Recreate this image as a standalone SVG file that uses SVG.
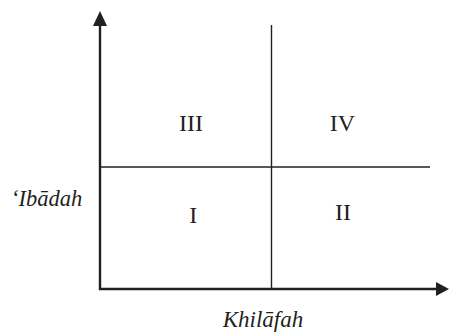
<svg xmlns="http://www.w3.org/2000/svg" width="449" height="333" viewBox="0 0 449 333">
<style>
.t{font-family:"Liberation Serif","Times New Roman",serif;font-size:24px;fill:#231f20}
.i{font-style:italic;font-size:23px}
.ax{stroke:#231f20;stroke-width:2.4;fill:none}
.ln{stroke:#231f20;stroke-width:1.4;fill:none}
</style>
<rect width="449" height="333" fill="#fff"/>
<g id="connectors">
<line class="ax" x1="100" y1="24" x2="100" y2="290"/>
<polygon points="100,11 93,26 107,26" fill="#231f20"/>
<line class="ax" x1="99" y1="289" x2="438" y2="289"/>
<polygon points="449,289 436,282 436,296" fill="#231f20"/>
<line class="ln" x1="101" y1="167" x2="430" y2="167"/>
<line class="ln" x1="271.5" y1="25" x2="271.5" y2="289"/>
</g>
<g id="q3"><text class="t" x="191" y="131" text-anchor="middle">III</text></g>
<g id="q4"><text class="t" x="342.5" y="131" text-anchor="middle">IV</text></g>
<g id="q1"><text class="t" x="193.3" y="223" text-anchor="middle">I</text></g>
<g id="q2"><text class="t" x="343" y="220" text-anchor="middle">II</text></g>
<g id="ylabel"><text class="t i" x="11" y="206" style="font-size:22.5px">‘Ibādah</text></g>
<g id="xlabel"><text class="t i" x="263" y="327" text-anchor="middle">Khilāfah</text></g>
</svg>
